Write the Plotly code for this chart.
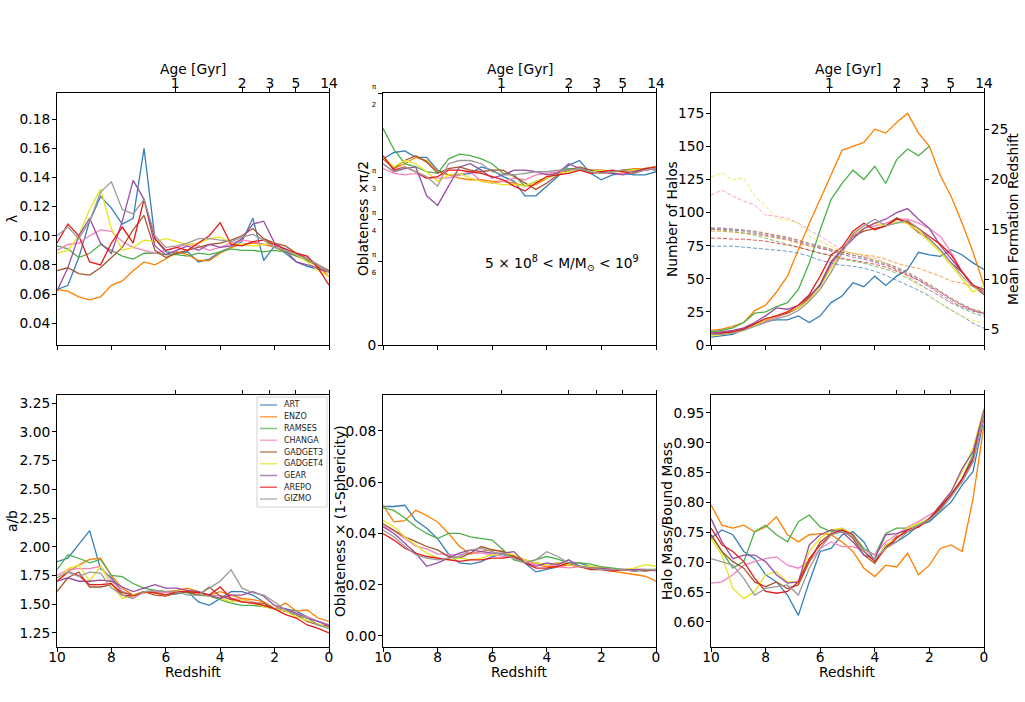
import plotly.graph_objects as go

codes = ["ART", "ENZO", "RAMSES", "CHANGA", "GADGET3", "GADGET4", "GEAR", "AREPO", "GIZMO"]
line_colors = ["#377eb8", "#ff7f00", "#4daf4a", "#f781bf", "#a65628", "#e5e520", "#984ea3", "#e41a1c", "#999999"]

redshift = [10.0, 9.6, 9.2, 8.8, 8.4, 8.0, 7.6, 7.2, 6.8, 6.4, 6.0, 5.6, 5.2,
            4.8, 4.4, 4.0, 3.6, 3.2, 2.8, 2.4, 2.0, 1.6, 1.2, 0.8, 0.4, 0.0]
redshift_ticks = [10, 8, 6, 4, 2, 0]
age_tick_z = [5.66, 3.19, 2.17, 1.22, 0.0]
age_tick_text = ["1", "2", "3", "5", "14"]

# spin parameter lambda
spin_lambda = [
    [0.063,0.066,0.085,0.110,0.127,0.119,0.108,0.112,0.160,0.098,0.089,0.088,0.089,0.082,0.084,0.089,0.092,0.096,0.112,0.083,0.093,0.088,0.082,0.079,0.077,0.075],
    [0.063,0.062,0.058,0.056,0.058,0.066,0.069,0.076,0.082,0.080,0.084,0.089,0.087,0.083,0.083,0.088,0.092,0.094,0.095,0.094,0.092,0.089,0.086,0.083,0.079,0.072],
    [0.093,0.091,0.085,0.088,0.094,0.090,0.086,0.084,0.088,0.088,0.087,0.087,0.086,0.088,0.087,0.089,0.091,0.090,0.090,0.089,0.090,0.089,0.086,0.083,0.080,0.075],
    [0.090,0.094,0.095,0.100,0.104,0.103,0.096,0.092,0.090,0.088,0.090,0.092,0.094,0.093,0.090,0.092,0.095,0.097,0.096,0.094,0.094,0.090,0.088,0.085,0.080,0.075],
    [0.076,0.078,0.074,0.073,0.078,0.085,0.092,0.104,0.114,0.090,0.085,0.088,0.090,0.092,0.094,0.095,0.097,0.100,0.105,0.098,0.095,0.093,0.088,0.084,0.080,0.076],
    [0.088,0.090,0.100,0.118,0.132,0.105,0.090,0.092,0.097,0.096,0.098,0.096,0.094,0.095,0.098,0.099,0.095,0.094,0.093,0.094,0.095,0.090,0.087,0.082,0.076,0.072],
    [0.062,0.078,0.100,0.112,0.095,0.088,0.110,0.138,0.125,0.093,0.087,0.090,0.093,0.090,0.094,0.092,0.093,0.098,0.108,0.110,0.095,0.090,0.082,0.080,0.078,0.075],
    [0.095,0.108,0.100,0.082,0.080,0.095,0.106,0.095,0.125,0.098,0.090,0.092,0.090,0.095,0.100,0.109,0.094,0.093,0.096,0.097,0.094,0.091,0.088,0.086,0.078,0.066],
    [0.100,0.106,0.098,0.110,0.130,0.137,0.118,0.115,0.125,0.100,0.092,0.093,0.095,0.098,0.098,0.097,0.096,0.099,0.101,0.097,0.092,0.090,0.087,0.084,0.080,0.075],
]

# oblateness angle (radians)
oblateness_angle = [
    [1.16,1.20,1.21,1.17,1.17,1.09,1.06,1.06,1.07,1.11,1.09,1.05,1.02,0.93,0.93,0.99,1.05,1.12,1.15,1.07,1.03,1.06,1.07,1.06,1.06,1.08],
    [1.17,1.10,1.13,1.17,1.15,1.08,1.06,1.04,1.03,1.03,1.02,1.02,1.01,0.99,1.00,1.04,1.07,1.10,1.10,1.09,1.08,1.08,1.09,1.10,1.10,1.11],
    [1.35,1.22,1.13,1.11,1.08,1.07,1.16,1.19,1.18,1.16,1.13,1.07,1.06,0.99,1.02,1.04,1.08,1.10,1.10,1.09,1.08,1.08,1.09,1.09,1.09,1.10],
    [1.10,1.07,1.06,1.07,1.04,1.04,1.04,1.06,1.08,1.02,1.01,1.02,1.04,1.03,1.06,1.07,1.08,1.08,1.09,1.08,1.07,1.07,1.07,1.08,1.09,1.10],
    [1.16,1.10,1.15,1.18,1.14,1.07,1.10,1.11,1.09,1.08,1.09,1.09,1.05,1.01,0.97,1.01,1.06,1.09,1.11,1.09,1.09,1.08,1.09,1.08,1.10,1.11],
    [1.17,1.11,1.15,1.13,1.08,1.02,1.06,1.07,1.04,1.02,1.01,1.00,1.00,0.99,1.02,1.04,1.07,1.08,1.09,1.08,1.09,1.08,1.08,1.09,1.10,1.11],
    [1.13,1.08,1.10,1.11,0.93,0.87,0.99,1.11,1.13,1.09,1.04,1.06,1.09,1.09,1.08,1.06,1.07,1.13,1.10,1.07,1.08,1.07,1.06,1.08,1.10,1.09],
    [1.18,1.09,1.11,1.08,1.04,1.05,1.09,1.09,1.08,1.07,1.05,1.03,0.99,0.96,1.01,1.05,1.06,1.07,1.09,1.07,1.08,1.09,1.08,1.07,1.10,1.11],
    [1.13,1.08,1.11,1.08,1.05,0.99,1.13,1.15,1.15,1.13,1.08,1.06,1.06,1.07,1.08,1.08,1.09,1.09,1.10,1.08,1.07,1.08,1.09,1.07,1.09,1.10],
]

# number of halos
n_halos = [
    [6,7,8,12,15,18,19,19,22,17,22,32,37,47,44,52,45,52,57,70,68,67,72,68,62,57],
    [11,12,14,17,26,30,40,52,72,92,110,128,147,150,153,163,160,168,175,160,150,128,112,92,70,45],
    [10,11,13,17,24,25,29,32,42,62,87,110,122,132,125,135,122,140,148,143,150,None,None,None,None,None],
    [9,9,10,12,15,18,21,24,28,35,45,60,72,83,88,90,92,95,95,92,88,82,70,55,45,42],
    [8,9,10,12,16,19,22,24,28,36,46,63,72,82,86,88,90,96,92,85,80,72,62,55,45,38],
    [7,8,9,11,15,19,22,25,28,34,44,58,70,84,88,92,90,93,92,86,78,70,60,50,40,45],
    [9,10,11,13,17,22,28,27,30,37,45,62,72,80,88,92,95,100,103,95,88,75,65,55,45,42],
    [8,9,10,12,16,20,22,25,30,38,52,68,74,86,92,87,90,95,93,88,82,76,68,55,45,40],
    [8,8,9,11,14,17,20,22,26,33,42,55,70,84,90,95,90,92,94,88,80,72,62,52,44,40],
]

# mean formation redshift (dashed, right axis)
formation_z = [
    [13.3,13.3,13.3,13.2,13.1,13.0,12.9,12.8,12.6,12.3,11.9,11.6,11.4,11.3,11.1,10.8,10.4,9.9,9.4,8.9,8.3,7.6,6.9,6.3,5.6,5.1],
    [14.8,14.8,14.7,14.6,14.5,14.3,14.1,13.9,13.6,13.3,13.1,12.9,12.7,12.6,12.4,12.3,12.0,11.6,11.3,11.1,10.7,10.3,9.8,9.6,9.3,8.9],
    [15.0,14.9,14.8,14.6,14.4,14.1,13.8,13.5,13.2,12.9,12.6,12.3,12.0,11.8,11.6,11.3,11.0,10.6,10.1,9.5,8.9,8.3,7.6,7.1,6.6,6.3],
    [18.4,18.9,18.3,17.8,17.4,16.4,16.3,16.1,15.6,14.9,14.3,13.6,12.9,12.6,12.3,12.1,11.6,10.9,10.3,9.6,8.9,8.3,7.6,7.3,6.8,6.6],
    [15.1,15.1,15.0,14.9,14.8,14.6,14.4,14.2,13.9,13.6,13.3,13.0,12.7,12.4,12.2,11.9,11.6,11.2,10.7,10.1,9.5,8.8,8.1,7.5,7.0,6.7],
    [20.2,20.6,19.9,20.1,18.3,17.3,16.1,15.9,15.6,14.3,13.8,13.3,12.8,12.6,12.4,11.9,11.6,10.9,10.3,9.3,8.3,7.6,6.9,6.3,5.9,5.6],
    [15.0,15.0,14.9,14.8,14.6,14.4,14.2,14.0,13.7,13.4,13.1,12.8,12.5,12.2,12.0,11.7,11.4,11.0,10.5,9.9,9.2,8.5,7.8,7.2,6.8,6.5],
    [14.1,14.1,14.0,14.0,13.9,13.8,13.6,13.4,13.2,12.9,12.6,12.4,12.1,11.9,11.7,11.5,11.2,10.8,10.4,9.9,9.3,8.7,8.0,7.4,6.9,6.6],
    [15.1,15.1,15.0,14.9,14.7,14.5,14.3,14.1,13.8,13.5,13.2,12.9,12.6,12.4,12.1,11.8,11.5,11.1,10.6,10.0,9.4,8.7,8.0,7.4,6.9,6.6],
]

# axis ratio a/b
axis_ratio_ab = [
    [1.87,1.90,2.02,2.14,1.81,1.73,1.61,1.58,1.61,1.61,1.58,1.59,1.61,1.52,1.49,1.55,1.61,1.61,1.58,1.52,1.46,1.46,1.44,1.39,1.35,1.32],
    [1.70,1.78,1.84,1.89,1.90,1.75,1.64,1.58,1.60,1.62,1.61,1.62,1.64,1.61,1.58,1.61,1.58,1.55,1.54,1.52,1.46,1.51,1.44,1.45,1.38,1.35],
    [1.80,1.93,1.90,1.86,1.89,1.75,1.74,1.68,1.64,1.62,1.61,1.61,1.60,1.58,1.57,1.54,1.51,1.49,1.49,1.48,1.46,1.44,1.41,1.38,1.32,1.29],
    [1.75,1.80,1.81,1.81,1.83,1.71,1.61,1.58,1.60,1.61,1.60,1.61,1.62,1.60,1.57,1.58,1.55,1.54,1.52,1.49,1.46,1.45,1.42,1.39,1.35,1.32],
    [1.61,1.73,1.78,1.65,1.65,1.67,1.60,1.58,1.61,1.58,1.57,1.60,1.61,1.58,1.65,1.57,1.54,1.52,1.51,1.51,1.46,1.44,1.41,1.35,1.32,1.31],
    [1.70,1.81,1.84,1.70,1.83,1.67,1.55,1.58,1.61,1.60,1.58,1.61,1.62,1.60,1.58,1.55,1.52,1.54,1.51,1.48,1.46,1.44,1.39,1.36,1.33,1.29],
    [1.70,1.73,1.70,1.70,1.71,1.70,1.65,1.61,1.64,1.67,1.64,1.64,1.62,1.61,1.58,1.55,1.58,1.58,1.61,1.57,1.49,1.46,1.42,1.38,1.35,1.31],
    [1.70,1.78,1.75,1.67,1.67,1.68,1.58,1.57,1.61,1.60,1.58,1.61,1.61,1.60,1.58,1.65,1.55,1.52,1.51,1.49,1.46,1.41,1.38,1.32,1.29,1.25],
    [1.73,1.78,1.74,1.78,1.77,1.64,1.58,1.55,1.61,1.62,1.61,1.61,1.58,1.58,1.64,1.70,1.80,1.64,1.60,1.58,1.52,1.45,1.41,1.38,1.32,1.29],
]

# oblateness x (1 - sphericity)
oblateness_sph = [
    [0.0505,0.0505,0.051,0.045,0.042,0.038,0.032,0.0285,0.028,0.029,0.031,0.032,0.031,0.0285,0.025,0.026,0.027,0.0285,0.0285,0.027,0.0265,0.026,0.026,0.0255,0.0255,0.026],
    [0.051,0.0445,0.045,0.049,0.047,0.0445,0.040,0.035,0.032,0.033,0.0336,0.033,0.031,0.0285,0.028,0.027,0.027,0.0277,0.027,0.026,0.026,0.0253,0.0246,0.024,0.0233,0.0214],
    [0.050,0.049,0.046,0.0426,0.040,0.038,0.040,0.040,0.0387,0.038,0.0374,0.0336,0.0297,0.0285,0.0297,0.031,0.030,0.0285,0.0285,0.028,0.027,0.0265,0.026,0.026,0.026,0.026],
    [0.043,0.041,0.038,0.035,0.034,0.032,0.0317,0.0317,0.0323,0.0323,0.0317,0.031,0.0304,0.029,0.0278,0.0278,0.027,0.0266,0.027,0.027,0.0266,0.026,0.026,0.026,0.026,0.0253],
    [0.0438,0.0413,0.0387,0.0368,0.0349,0.0336,0.031,0.0304,0.0323,0.0349,0.0336,0.0329,0.031,0.0297,0.0285,0.0278,0.0285,0.0278,0.0272,0.0265,0.0265,0.0259,0.0259,0.0259,0.0253,0.0259],
    [0.0451,0.0426,0.0387,0.0355,0.0323,0.0304,0.0297,0.0304,0.0297,0.0304,0.0317,0.0323,0.0317,0.0297,0.0285,0.0278,0.0285,0.0278,0.0272,0.0272,0.0265,0.0259,0.0259,0.0265,0.0278,0.0272],
    [0.0426,0.040,0.0362,0.0323,0.0272,0.0285,0.0304,0.0323,0.0336,0.0329,0.0323,0.0323,0.0329,0.0285,0.0272,0.0285,0.0278,0.0297,0.0272,0.0265,0.0265,0.0259,0.0259,0.0259,0.0259,0.0259],
    [0.040,0.0374,0.0342,0.0323,0.031,0.0304,0.0297,0.0291,0.0297,0.0297,0.0304,0.0304,0.031,0.0285,0.0265,0.0265,0.0272,0.0285,0.0272,0.0259,0.0259,0.0253,0.0259,0.0253,0.0259,0.0259],
    [0.0413,0.0387,0.0349,0.0317,0.0304,0.0297,0.0304,0.031,0.0336,0.0342,0.0329,0.0317,0.0304,0.0285,0.0297,0.0329,0.031,0.0285,0.0272,0.0265,0.0259,0.0259,0.0259,0.0253,0.0259,0.0259],
]

# halo mass / bound mass
mass_ratio = [
    [0.740,0.754,0.746,0.718,0.706,0.679,0.667,0.645,0.611,0.667,0.718,0.723,0.746,0.751,0.734,0.701,0.729,0.734,0.746,0.762,0.768,0.785,0.801,0.829,0.852,0.941],
    [0.796,0.762,0.757,0.762,0.751,0.759,0.776,0.746,0.734,0.746,0.748,0.746,0.734,0.718,0.690,0.676,0.695,0.692,0.715,0.679,0.695,0.723,0.729,0.718,0.807,0.930],
    [0.746,0.718,0.690,0.701,0.751,0.762,0.746,0.734,0.768,0.779,0.759,0.751,0.757,0.746,0.723,0.712,0.748,0.757,0.757,0.762,0.773,0.790,0.813,0.840,0.880,0.952],
    [0.665,0.667,0.679,0.695,0.701,0.706,0.709,0.695,0.690,0.701,0.723,0.734,0.726,0.726,0.720,0.712,0.734,0.746,0.759,0.768,0.779,0.790,0.813,0.835,0.868,0.946],
    [0.746,0.718,0.701,0.690,0.667,0.659,0.667,0.656,0.662,0.701,0.734,0.748,0.754,0.740,0.712,0.698,0.726,0.743,0.751,0.759,0.771,0.790,0.813,0.838,0.871,0.952],
    [0.740,0.712,0.656,0.639,0.651,0.679,0.684,0.667,0.667,0.718,0.740,0.754,0.757,0.746,0.718,0.701,0.729,0.740,0.757,0.765,0.773,0.796,0.818,0.852,0.891,0.958],
    [0.773,0.734,0.706,0.712,0.712,0.701,0.679,0.665,0.667,0.729,0.746,0.754,0.751,0.734,0.712,0.706,0.746,0.748,0.754,0.759,0.773,0.796,0.818,0.857,0.885,0.955],
    [0.757,0.729,0.718,0.701,0.673,0.651,0.648,0.651,0.667,0.706,0.729,0.746,0.754,0.746,0.718,0.701,0.723,0.740,0.754,0.759,0.773,0.793,0.813,0.840,0.874,0.952],
    [0.706,0.701,0.695,0.673,0.645,0.656,0.659,0.662,0.645,0.690,0.723,0.746,0.751,0.743,0.718,0.706,0.723,0.734,0.751,0.762,0.771,0.787,0.810,0.835,0.868,0.952],
]

# ---------------- layout geometry ----------------
W, H = 1025, 702
col_px = [(57, 329), (383, 656), (711, 984)]
row_px = [(93, 345), (395, 647)]
FONT = "DejaVu Sans"
FS = 13.8


def px(x):
    return x / W


def py(y):
    return 1 - y / H


def frac(den):
    return ("<span style='font-size:7px'>π</span><br>"
            f"<span style='font-size:7px'>{den}</span>")


panels = [spin_lambda, oblateness_angle, n_halos, axis_ratio_ab, oblateness_sph, mass_ratio]
y_titles = ["λ", "Oblateness ×π/2", "Number of Halos",
            "a/b", "Oblateness × (1-Sphericity)", "Halo Mass/Bound Mass"]
y_title_x = [12, 363, 672, 12, 340, 667]
right_title = "Mean Formation Redshift"
x_title_bottom = "Redshift"
x_title_top = "Age [Gyr]"
y_ranges = [[0.025, 0.198], [0, 1.5708], [0, 190.3],
            [1.128, 3.32], [-0.0043, 0.094], [0.558, 0.980]]
y_tickcfg = [
    dict(tick0=0.04, dtick=0.02, tickformat=".2f"),
    dict(tickvals=[0, 0.5236, 0.7854, 1.0472, 1.5708],
         ticktext=["0", frac(6), frac(4), frac(3), frac(2)]),
    dict(tick0=0, dtick=25),
    dict(tick0=1.25, dtick=0.25, tickformat=".2f"),
    dict(tick0=0, dtick=0.02, tickformat=".2f"),
    dict(tick0=0.6, dtick=0.05, tickformat=".2f"),
]

fig = go.Figure()

for p, data in enumerate(panels, start=1):
    for name, color, ys in zip(codes, line_colors, data):
        fig.add_trace(go.Scatter(
            x=redshift, y=ys, mode="lines", name=name,
            line=dict(color=color, width=1.3),
            xaxis=f"x{p}", yaxis=f"y{p}", showlegend=False,
            connectgaps=False))

# dashed mean formation redshift on secondary axis of panel 3
for name, color, ys in zip(codes, line_colors, formation_z):
    fig.add_trace(go.Scatter(
        x=redshift, y=ys, mode="lines", name=name,
        line=dict(color=color, width=1, dash="4px,2px"), opacity=0.75,
        xaxis="x3", yaxis="y13", showlegend=False))

# empty traces so the top (age) axes are drawn
for p in range(1, 7):
    fig.add_trace(go.Scatter(x=[None], y=[None], xaxis=f"x{p + 6}", yaxis=f"y{p}",
                             showlegend=False, hoverinfo="skip"))

axis_common = dict(showline=True, linecolor="black", linewidth=1, ticks="outside",
                   ticklen=4, tickwidth=1, tickcolor="black", showgrid=False,
                   zeroline=False, automargin=False,
                   tickfont=dict(family=FONT, size=FS, color="black"))

layout = dict(width=W, height=H, margin=dict(l=0, r=0, t=0, b=0, autoexpand=False),
              paper_bgcolor="white", plot_bgcolor="white",
              font=dict(family=FONT, size=FS, color="black"), showlegend=False)

for p in range(1, 7):
    r, c = (p - 1) // 3, (p - 1) % 3
    xd = [px(col_px[c][0]), px(col_px[c][1])]
    yd = [py(row_px[r][1]), py(row_px[r][0])]
    layout[f"xaxis{p}"] = dict(axis_common, domain=xd, range=[10, 0], anchor=f"y{p}",
                               tickvals=redshift_ticks, mirror=True,
                               showticklabels=(r == 1), ticklabelstandoff=-7)
    ya = dict(axis_common, domain=yd, range=y_ranges[p - 1], anchor=f"x{p}", mirror=True,
              ticklabelstandoff=-1)
    ya.update(y_tickcfg[p - 1])
    layout[f"yaxis{p}"] = ya
    layout[f"xaxis{p + 6}"] = dict(axis_common, showline=False, range=[10, 0],
                                   overlaying=f"x{p}", side="top", anchor=f"y{p}",
                                   tickvals=age_tick_z, ticktext=age_tick_text,
                                   showticklabels=(r == 0), ticklabelstandoff=-6)

layout["yaxis13"] = dict(axis_common, range=[3.43, 28.6], overlaying="y3", side="right",
                         anchor="x3", tick0=5, dtick=5, ticklabelstandoff=-1)

fig.update_layout(**layout)


def label(x, y, text, angle=0, size=FS):
    fig.add_annotation(x=px(x), y=py(y), xref="paper", yref="paper", showarrow=False,
                       xanchor="center", yanchor="middle", textangle=angle, text=text,
                       font=dict(family=FONT, size=size, color="black"))


# axis titles as annotations at their places
for p in range(1, 7):
    r, c = (p - 1) // 3, (p - 1) % 3
    yc = (row_px[r][0] + row_px[r][1]) / 2
    xc = (col_px[c][0] + col_px[c][1]) / 2
    label(y_title_x[p - 1], yc, y_titles[p - 1], angle=-90)
    if r == 1:
        label(xc, 672, x_title_bottom)
    else:
        label(xc, 69, x_title_top)
label(1013, 219, right_title, angle=-90)

# mass range annotation
label(562, 263, "5 × 10<sup>8</sup> &lt; M/M<sub>⊙</sub> &lt; 10<sup>9</sup>")

# legend (drawn in bottom-left panel)
leg_x0, leg_x1, leg_y0, leg_y1 = 257, 327, 397, 507
fig.add_shape(type="rect", xref="paper", yref="paper",
              x0=px(leg_x0), x1=px(leg_x1), y0=py(leg_y1), y1=py(leg_y0),
              line=dict(color="#d0d0d0", width=1), fillcolor="rgba(255,255,255,0.85)")
for i, (name, color) in enumerate(zip(codes, line_colors)):
    yy = 405 + i * 11.75
    fig.add_shape(type="line", xref="paper", yref="paper",
                  x0=px(260), x1=px(277), y0=py(yy), y1=py(yy),
                  line=dict(color=color, width=1.5), opacity=0.7)
    fig.add_annotation(x=px(282), y=py(yy), xref="paper", yref="paper", showarrow=False,
                       xanchor="left", yanchor="middle", text=name,
                       font=dict(family=FONT, size=8, color="#222222"))

fig.write_html("out.html")
